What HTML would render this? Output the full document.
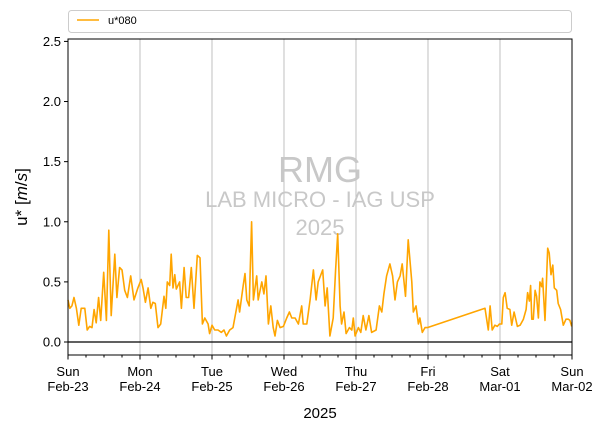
<!DOCTYPE html>
<html><head><meta charset="utf-8"><style>
body{margin:0;background:#fff;}
svg{display:block;font-family:"Liberation Sans","DejaVu Sans",sans-serif;}
</style></head><body>
<svg id="c" width="606" height="431"></svg>
<script>
const hours=[0,0.6,1.3,2,2.8,3.6,4.4,5.6,6.4,7.2,8,8.7,9.4,10.2,10.9,11.9,12.8,13.6,14.4,15.6,16.3,17.2,18,18.9,19.8,20.9,22,23.3,24.4,25,25.8,26.7,27.6,28.3,29.1,30,30.9,32,32.6,33.1,33.9,34.4,35,35.6,36.1,37.2,37.8,38.7,39.4,40.2,41.1,42,43.1,44,44.8,45.6,46.7,47.2,48,48.9,50,51.1,52,52.8,53.9,55,56.7,57.2,
58.4,59.0,59.6,60.4,61.2,61.8,62.9,63.4,64.6,65.3,66.0,66.8,67.6,68.4,69.0,69.8,70.7,71.8,72.9,73.8,74.6,75.7,76.8,77.9,78.4,79.6,80.7,81.8,82.7,83.4,84.9,85.7,86.4,87.3,88.4,89.2,89.9,90.7,91.2,92.0,92.7,93.8,94.6,95.1,95.7,96.8,97.6,98.4,99.3,100.3,101.2,102.7,103.8,104.6,105.3,106.2,107.3,108.2,109.0,109.8,110.7,111.4,112.5,113.4,114.6,115.1,116.0,116.8,117.3,118.1,119.0,119.8,
139.0,140.1,140.7,141.4,142.3,143.1,143.8,144.6,145.1,145.7,146.4,147.3,147.9,148.7,149.8,150.7,151.8,152.7,153.2,153.8,154.2,154.6,155.1,155.7,156.2,156.8,157.3,157.9,158.2,159.0,159.9,160.4,161.0,161.6,162.1,162.9,163.4,164.2,165.1,166.0,166.8,167.3,167.9];
const ustar=[0.35,0.28,0.3,0.37,0.28,0.14,0.28,0.28,0.1,0.13,0.12,0.27,0.16,0.37,0.18,0.58,0.18,0.93,0.22,0.73,0.37,0.62,0.6,0.43,0.37,0.55,0.35,0.45,0.52,0.45,0.33,0.45,0.28,0.33,0.32,0.12,0.15,0.38,0.28,0.5,0.47,0.73,0.45,0.56,0.44,0.5,0.28,0.62,0.37,0.37,0.62,0.28,0.72,0.7,0.15,0.2,0.15,0.07,0.14,0.1,0.1,0.08,0.1,0.05,0.1,0.12,0.35,0.25,
0.47,0.57,0.35,0.3,1.0,0.35,0.55,0.35,0.5,0.4,0.55,0.15,0.3,0.12,0.05,0.18,0.12,0.13,0.2,0.25,0.2,0.2,0.15,0.3,0.15,0.15,0.35,0.6,0.35,0.5,0.6,0.3,0.45,0.05,0.2,0.6,0.9,0.3,0.15,0.25,0.07,0.12,0.1,0.2,0.05,0.12,0.08,0.22,0.1,0.22,0.08,0.1,0.3,0.25,0.4,0.55,0.65,0.55,0.35,0.5,0.55,0.65,0.38,0.85,0.5,0.25,0.3,0.15,0.2,0.08,0.12,0.12,
0.28,0.1,0.3,0.1,0.14,0.13,0.15,0.15,0.37,0.41,0.28,0.27,0.14,0.25,0.13,0.14,0.19,0.27,0.41,0.34,0.47,0.19,0.19,0.43,0.38,0.2,0.5,0.46,0.53,0.18,0.78,0.74,0.56,0.64,0.45,0.43,0.32,0.27,0.14,0.19,0.19,0.18,0.13];
const dayNames=["Sun","Mon","Tue","Wed","Thu","Fri","Sat","Sun"];
const dayDates=["Feb-23","Feb-24","Feb-25","Feb-26","Feb-27","Feb-28","Mar-01","Mar-02"];
const yTicks=[0.0,0.5,1.0,1.5,2.0,2.5];

const L=68,R=572,T=39,B=355,yMin=-0.108,yMax=2.52,xMax=168;
const X=h=>L+(h/xMax)*(R-L);
const Y=v=>B-(v-yMin)/(yMax-yMin)*(B-T);
const svg=document.getElementById('c');
const NS='http://www.w3.org/2000/svg';
function mk(tag,attrs,parent){const e=document.createElementNS(NS,tag);for(const k in attrs)e.setAttribute(k,attrs[k]);(parent||svg).appendChild(e);return e;}

// legend
const lg=mk('g',{});


mk('rect',{x:68.5,y:10.5,width:503,height:22,rx:3,fill:'#fff',stroke:'#ccc'},lg);
mk('line',{x1:77,x2:99,y1:20,y2:20,stroke:'#ffa500','stroke-width':1.5},lg);
const lt=mk('text',{x:108,y:24,'font-size':11,fill:'#000'},lg);lt.textContent='u*080';

// grid
dayNames.forEach((d,i)=>{
  const x=X(i*24);
  if(i>0&&i<7){const g=mk('line',{x1:x,x2:x,y1:T,y2:B,stroke:'#b0b0b0','stroke-width':0.8});
  
  }
});

// watermark
const wm=[["RMG",182,36],["LAB MICRO - IAG USP",207,22],["2025",235,22]];
wm.forEach(w=>{const t=mk('text',{x:320,y:w[1],'font-size':w[2],fill:'#c8c8c8','text-anchor':'middle'});t.textContent=w[0];

});

// zero line
const zl=mk('line',{x1:L,x2:R,y1:Y(0),y2:Y(0),stroke:'#000','stroke-width':1.2});



// series
let d='';hours.forEach((h,i)=>{d+=(i?'L':'M')+X(h).toFixed(1)+','+Y(ustar[i]).toFixed(1);});
const p=mk('path',{d:d,fill:'none',stroke:'#ffa500','stroke-width':1.6,'stroke-linejoin':'round'});



// frame
const fr=mk('rect',{x:L,y:T,width:R-L,height:B-T,fill:'none',stroke:'#000','stroke-width':1});



// y ticks
yTicks.forEach(v=>{const y=Y(v);mk('line',{x1:L-4,x2:L,y1:y,y2:y,stroke:'#000'});
const t=mk('text',{x:L-7,y:y+4.5,'font-size':13,'text-anchor':'end'});t.textContent=v.toFixed(1);

});

// x ticks
for(let h=0;h<=xMax;h+=6){const x=X(h);mk('line',{x1:x,x2:x,y1:B,y2:B+(h%24?2.5:4.5),stroke:'#000'});}
dayNames.forEach((dn,i)=>{const x=X(i*24);
const t=mk('text',{x:x,y:376,'font-size':13,'text-anchor':'middle'});t.textContent=dn;


const t2=mk('text',{x:x,y:391,'font-size':13,'text-anchor':'middle'});t2.textContent=dayDates[i];

});

// axis titles
const xt=mk('text',{x:320,y:418,'font-size':15,'text-anchor':'middle'});xt.textContent='2025';


const yt=mk('text',{x:0,y:0,'font-size':17,'text-anchor':'middle',transform:'translate(27,197) rotate(-90)'});
yt.innerHTML='u* [<tspan font-style="italic">m</tspan>/<tspan font-style="italic">s</tspan>]';


</script>
</body></html>
